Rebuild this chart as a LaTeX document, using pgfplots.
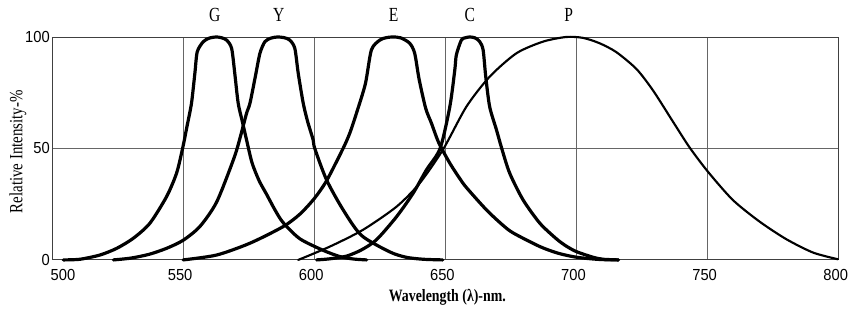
\documentclass[border=0pt]{standalone}
\usepackage{fontspec}
\setmainfont{Liberation Serif}
\newfontfamily\ticksf{Liberation Sans}[FakeStretch=0.92]
\newfontfamily\condserif{Liberation Serif}[FakeStretch=0.8]
\newfontfamily\condserifB{Liberation Serif Bold}[FakeStretch=0.8]
\newfontfamily\topserif{Liberation Serif}[FakeStretch=0.78]
\usepackage{pgfplots}
\pgfplotsset{compat=1.18}
\pgfplotsset{curve/.style={black, no markers, line width=2.4pt, smooth, tension=0.45, line join=round, line cap=round}}
\begin{document}
\begin{tikzpicture}
\begin{axis}[
  scale only axis,
  width=590.25pt, height=167.25pt,
  xmin=500, xmax=800, ymin=0, ymax=100,
  xtick={500,550,600,650,700,750,800},
  xticklabels={\hspace{21pt}500,550,600,650,700,750,800},
  ytick={0,50,100},
  major tick length=0pt,
  grid=major,
  major grid style={draw=black!60, line width=0.7pt},
  axis line style={draw=black!75, line width=0.7pt},
  /pgf/number format/assume math mode=true,
  ticklabel style={font=\ticksf\fontsize{12}{12}\selectfont, inner sep=0pt},
  xticklabel style={anchor=north, xshift=-2.25pt, yshift=-6.75pt},
  yticklabel style={anchor=east, xshift=-1.5pt},
  xlabel={Wavelength (λ)-nm.},
  ylabel={Relative Intensity-\%},
  xlabel style={font=\condserifB\fontsize{13}{14}\selectfont, at={(axis description cs:0.5025,-0.166)}, anchor=center},
  ylabel style={font=\condserif\fontsize{14}{15}\selectfont, at={(axis description cs:-0.0432,0.485)}, anchor=center, rotate=0},
  clip=false,
]
% G
\addplot[curve] coordinates {(504.3,0)(510.7,0.3)(518.3,2.2)(524.7,5.2)(531,9.7)(537.3,16.4)(543.7,28.4)(547.5,38.9)(549.8,50)(551.5,60)(553.2,70.3)(554.5,83.9)(555.4,93.4)(557.7,97.9)(560,99.5)(562.5,100)(564.5,99.7)(566.6,98.6)(568.5,94.9)(569.7,83.7)(571,70.3)(572.6,62)(574.2,53.8)(576.3,43.5)(579,35.5)(581.8,29.5)(585,22.5)(588.1,16.8)(594.5,9.5)(603.4,4.3)(609.8,1.5)(615,0.4)(620,0)};
% Y
\addplot[curve] coordinates {(523.4,0)(530,0.8)(537,2.5)(543.7,5.2)(550,8.8)(556.4,15)(562.8,26)(569.5,46)(572,56)(574.2,65.8)(575.5,70.3)(577.5,82)(579.3,92.7)(581.2,97.9)(583.5,99.5)(586,100)(588.5,99.7)(590.7,98.6)(592.6,94.9)(593.9,83.7)(595.8,70.3)(597.5,62)(599.6,53.8)(600.2,50)(604.7,35.9)(611,22.5)(618,11)(628.8,3.6)(635,1.2)(641.5,0.3)(649,0)};
% E
\addplot[curve] coordinates {(550,0)(562.8,2.2)(575.5,7.5)(588.1,14.9)(594.5,20.5)(600,27.5)(604.7,35.5)(611,50)(613.6,57)(616.1,65.8)(619.5,79)(621.8,94.2)(625,98.6)(627.5,99.7)(630,100)(633,99.6)(636.4,97.2)(638.3,92.7)(640,81)(642.5,68)(644.7,61.3)(647.5,52.5)(651.7,43.4)(655.5,36.5)(658,32.5)(665.7,22.4)(672,15.5)(676,12)(686,6)(693,3)(700,1.2)(708.8,0.2)(716,0)};
% C
\addplot[curve] coordinates {(600.9,0)(606,0.5)(612.3,1.7)(618,4.5)(623.7,9)(631.4,19.4)(637.7,29.9)(642.8,40.4)(648,50)(651.7,68.7)(653.6,85.2)(654.2,92)(656.1,98.6)(657.5,99.6)(659.3,100)(661.3,99.6)(663.1,97.9)(664.4,94.2)(665.4,82.2)(666.9,68.7)(669.5,58.3)(671.5,50)(674.5,39)(679.6,27)(686,16.5)(692.3,9.5)(696.1,6.2)(700,3.7)(706.3,1.2)(710.1,0.3)(716,0)};
% P
\addplot[curve, line width=1.6pt] coordinates {(593.9,0)(606,6)(618.6,13.5)(631.4,23.9)(640.2,34.4)(649.1,49.5)(658,68.7)(666.9,82.2)(677.1,92.7)(687.2,97.9)(696.1,100)(702.5,99.6)(708.8,97.2)(715.2,93.2)(722.9,85.6)(729.2,76)(736.8,62)(743.1,50.5)(750.1,39.6)(759.6,26.9)(769.8,17.2)(780,9.3)(790.2,3.3)(799.7,0.3)};
\node[font=\topserif\fontsize{15}{16}\selectfont] at (axis cs:562.1,109.9) {G};
\node[font=\topserif\fontsize{15}{16}\selectfont] at (axis cs:586.5,109.9) {Y};
\node[font=\topserif\fontsize{15}{16}\selectfont] at (axis cs:630.3,109.9) {E};
\node[font=\topserif\fontsize{15}{16}\selectfont] at (axis cs:659.3,109.9) {C};
\node[font=\topserif\fontsize{15}{16}\selectfont] at (axis cs:697,109.9) {P};
\path ([xshift=-39pt,yshift=-36pt]rel axis cs:0,0) rectangle ([xshift=6.75pt,yshift=27.75pt]rel axis cs:1,1);
\end{axis}
\end{tikzpicture}
\end{document}
